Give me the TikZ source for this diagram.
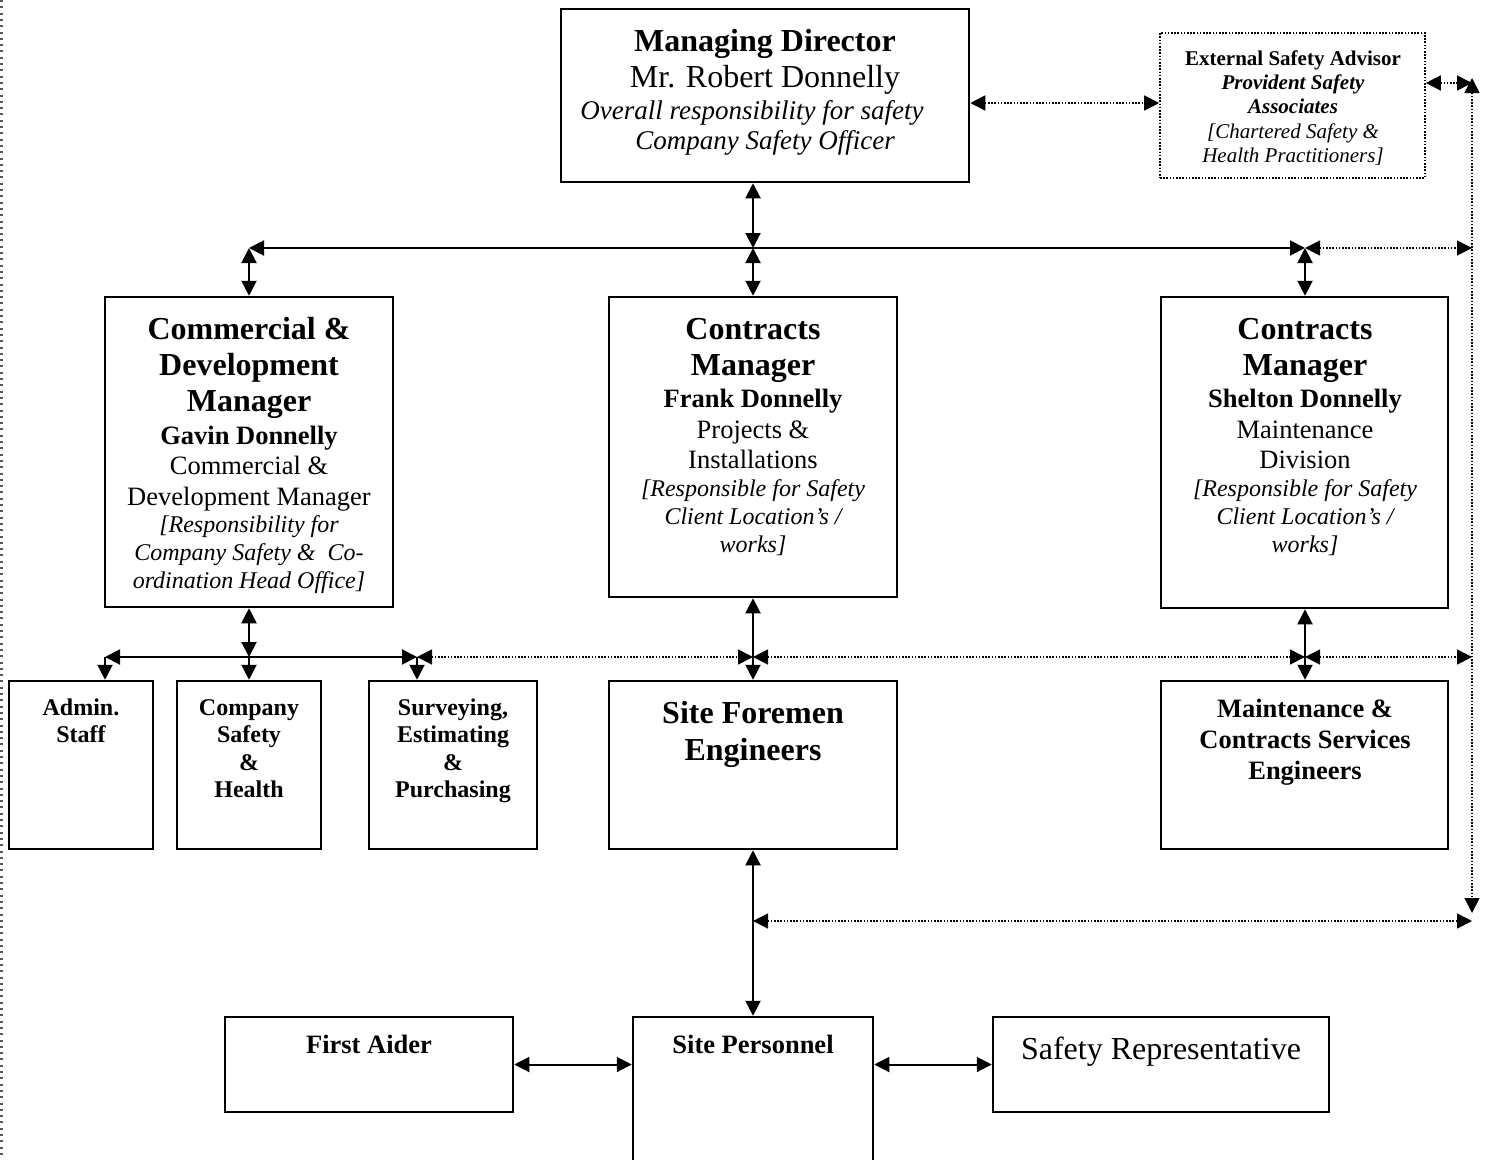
\documentclass[tikz,border=0pt]{standalone}
\usepackage{fontspec}
\setmainfont{Liberation Serif}
\usetikzlibrary{arrows.meta}
\tikzset{
  tl/.style={inner sep=0pt, text height=#1*0.7pt, text depth=#1*0.16pt, yshift=-2.5pt},
  fB/.style={tl=#1, font=\bfseries\fontsize{#1}{#1}\selectfont},
  fR/.style={tl=#1, font=\fontsize{#1}{#1}\selectfont},
  fI/.style={tl=#1, font=\itshape\fontsize{#1}{#1}\selectfont},
  fBI/.style={tl=#1, font=\bfseries\itshape\fontsize{#1}{#1}\selectfont},
  box/.style={draw, line width=2.5pt, inner sep=0pt},
  dbox/.style={draw, line width=1.6pt, dash pattern=on 1.6pt off 1.6pt, inner sep=0pt},
  tip/.tip={Triangle[length=15pt,width=15pt]},
  con/.style={line width=2pt, tip-tip},
  con1/.style={line width=2pt, -tip},
  dcon/.style={line width=1.6pt, dash pattern=on 1.6pt off 1.6pt, tip-tip},
}
\begin{document}
\begin{tikzpicture}[x=1pt,y=-1pt]
\fill[white] (0,0) rectangle (1487,1159);
\useasboundingbox (0,0) rectangle (1487,1159);
% left edge dashed line
\draw[line width=3pt, gray!70!black, dash pattern=on 2pt off 4.3pt] (1.5,0) -- (1.5,1159);

% boxes
\node[box, minimum width=408pt, minimum height=173pt] (MD) at (765,95.5) {};
\node[dbox, minimum width=265pt, minimum height=145pt] (Ext) at (1292.5,105.5) {};
\node[box, minimum width=288pt, minimum height=310pt] (Comm) at (249,452) {};
\node[box, minimum width=288pt, minimum height=300pt] (Frank) at (753,447) {};
\node[box, minimum width=287pt, minimum height=311pt] (Shel) at (1304.5,452.5) {};
\node[box, minimum width=144pt, minimum height=168pt] (Admin) at (81,765) {};
\node[box, minimum width=144pt, minimum height=168pt] (CSH) at (249,765) {};
\node[box, minimum width=168pt, minimum height=168pt] (Surv) at (453,765) {};
\node[box, minimum width=288pt, minimum height=168pt] (SiteF) at (753,765) {};
\node[box, minimum width=287pt, minimum height=168pt] (Maint) at (1304.5,765) {};
\node[box, minimum width=288pt, minimum height=95pt] (FirstA) at (369,1064.5) {};
\node[box, minimum width=240pt, minimum height=160pt] (SiteP) at (753,1097) {};
\node[box, minimum width=336pt, minimum height=95pt] (SafeR) at (1161,1064.5) {};

% texts
\node[fB=32] (md1) at (765,40) {Managing Director};
\node[fR=32] (md2) at (765,76) {Mr. Robert Donnelly};
\node[fI=27] (md3) at (752,110) {Overall responsibility for safety};
\node[fI=27] (md4) at (765,140) {Company Safety Officer};

\node[fB=21] (ex1) at (1293,57) {External Safety Advisor};
\node[fBI=21] (ex2) at (1293,81) {Provident Safety};
\node[fBI=21] (ex3) at (1293,105) {Associates};
\node[fI=21] (ex4) at (1293,130) {[Chartered Safety \&};
\node[fI=21] (ex5) at (1293,154) {Health Practitioners]};

\node[fB=32] (cm1) at (249,328) {Commercial \&};
\node[fB=32] (cm2) at (249,364) {Development};
\node[fB=32] (cm3) at (249,400) {Manager};
\node[fB=26.5] (cm4) at (249,435) {Gavin Donnelly};
\node[fR=26.5] (cm5) at (249,465) {Commercial \&};
\node[fR=26.5] (cm6) at (249,496) {Development Manager};
\node[fI=24] (cm7) at (249,524) {[Responsibility for};
\node[fI=24] (cm8) at (249,552) {Company Safety \&\ \ Co-};
\node[fI=24] (cm9) at (249,580) {ordination Head Office]};

\node[fB=32] (fr1) at (753,328) {Contracts};
\node[fB=32] (fr2) at (753,364) {Manager};
\node[fB=26.5] (fr3) at (753,398) {Frank Donnelly};
\node[fR=26.5] (fr4) at (753,429) {Projects \&};
\node[fR=26.5] (fr5) at (753,459) {Installations};
\node[fI=24] (fr6) at (753,488) {[Responsible for Safety};
\node[fI=24] (fr7) at (753,516) {Client Location’s /};
\node[fI=24] (fr8) at (753,544) {works]};

\node[fB=32] (sh1) at (1305,328) {Contracts};
\node[fB=32] (sh2) at (1305,364) {Manager};
\node[fB=26.5] (sh3) at (1305,398) {Shelton Donnelly};
\node[fR=26.5] (sh4) at (1305,429) {Maintenance};
\node[fR=26.5] (sh5) at (1305,459) {Division};
\node[fI=24] (sh6) at (1305,488) {[Responsible for Safety};
\node[fI=24] (sh7) at (1305,516) {Client Location’s /};
\node[fI=24] (sh8) at (1305,544) {works]};

\node[fB=24] (ad1) at (81,707) {Admin.};
\node[fB=24] (ad2) at (81,734) {Staff};
\node[fB=24] (cs1) at (249,707) {Company};
\node[fB=24] (cs2) at (249,734) {Safety};
\node[fB=24] (cs3) at (249,762) {\&};
\node[fB=24] (cs4) at (249,789) {Health};
\node[fB=24] (sv1) at (453,707) {Surveying,};
\node[fB=24] (sv2) at (453,734) {Estimating};
\node[fB=24] (sv3) at (453,762) {\&};
\node[fB=24] (sv4) at (453,789) {Purchasing};
\node[fB=32] (sf1) at (753,712) {Site Foremen};
\node[fB=32] (sf2) at (753,749) {Engineers};
\node[fB=26.5] (mt1) at (1305,708) {Maintenance \&};
\node[fB=26.5] (mt2) at (1305,739) {Contracts Services};
\node[fB=26.5] (mt3) at (1305,770) {Engineers};
\node[fB=26.5] (fa1) at (369,1044) {First Aider};
\node[fB=26.5] (sp1) at (753,1044) {Site Personnel};
\node[fR=32] (sr1) at (1161,1048) {Safety Representative};

% junction coordinates
\coordinate (jTop) at (753,248);
\coordinate (jL) at (Comm.north |- jTop);
\coordinate (jR) at (1305,248);
\coordinate (eR1) at (1472,248);
\coordinate (yMD) at (0,103);
\coordinate (yEx) at (0,83);
\coordinate (eTop) at (1472,83);
\coordinate (vT) at (1472,78);
\coordinate (vB) at (1472,913);
\coordinate (y657) at (0,657);
\coordinate (jC) at (Comm.south |- y657);
\coordinate (jA) at (105,657);
\coordinate (jS) at (417,657);
\coordinate (jF) at (Frank.south |- y657);
\coordinate (jM) at (1305,657);
\coordinate (eR2) at (1472,657);
\coordinate (jB) at (753,921);
\coordinate (eR3) at (1472,921);

% connectors
\draw[con] (jTop |- MD.south) -- (jTop);
\draw[con] (jL) -- (jR);
\draw[con] (jL) -- (Comm.north);
\draw[con] (jTop) -- (Frank.north);
\draw[con] (jR) -- (jR |- Shel.north);
\draw[dcon] (jR) -- (eR1);
\draw[dcon] (MD.east |- yMD) -- (Ext.west |- yMD);
\draw[dcon] (Ext.east |- yEx) -- (eTop);
\draw[dcon] (vT) -- (vB);

\draw[con] (Comm.south) -- (jC);
\draw[con] (jA) -- (jS);
\draw[con1] (jA) -- (jA |- Admin.north);
\draw[con1] (jC) -- (CSH.north);
\draw[con1] (jS) -- (jS |- Surv.north);
\draw[dcon] (jS) -- (jF);
\draw[con] (Frank.south) -- (SiteF.north);
\draw[dcon] (jF) -- (jM);
\draw[con] (jM |- Shel.south) -- (jM |- Maint.north);
\draw[dcon] (jM) -- (eR2);

\draw[con] (SiteF.south) -- (SiteP.north);
\draw[dcon] (jB) -- (eR3);
\draw[con] (FirstA.east) -- (SiteP.west |- FirstA.east);
\draw[con] (SiteP.east |- SafeR.west) -- (SafeR.west);
\end{tikzpicture}
\end{document}
